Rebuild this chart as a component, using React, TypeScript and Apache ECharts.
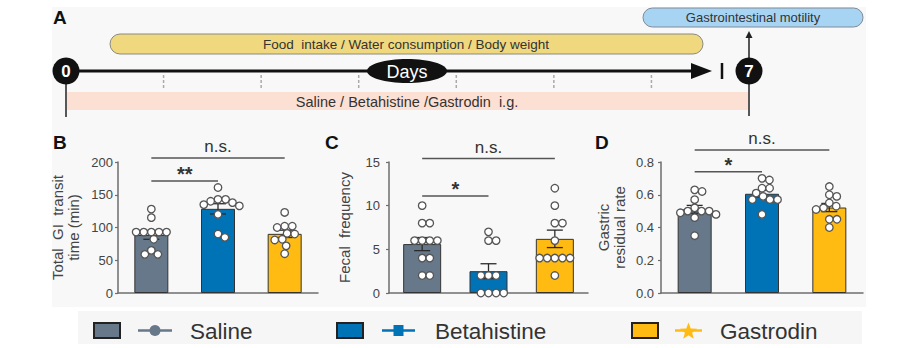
import React, { useEffect, useRef } from "react";
import * as echarts from "echarts";

const FONT = '"Liberation Sans", Arial, Helvetica, sans-serif';

const groups = ["Saline", "Betahistine", "Gastrodin"];
const groupColors = ["#66788a", "#0072b6", "#ffbb11"];

// Panel A timeline
const days = [0, 1, 2, 3, 4, 5, 6, 7];

// Panel B: Total GI transit time (min)
const transitMeans = [88.5, 128.5, 90.3];
const transitSems = [6.5, 7.8, 5.6];
const transitSaline = [128, 115, 93, 93, 93, 93, 93, 82, 65, 59, 59];
const transitBeta = [161, 143, 143, 140, 138, 135, 133, 120, 90, 85];
const transitGastro = [123, 102, 102, 100, 91, 90, 82, 81, 72, 60];
const transitBrackets = [[0, 2, 206], [0, 1, 171]];
const transitBracketLabels = ["n.s.", "**"];

// Panel C: Fecal frequency
const fecalMeans = [5.6, 2.5, 6.2];
const fecalSems = [0.75, 0.85, 1.0];
const fecalSaline = [10, 8, 8, 6, 6, 6, 6, 4, 4, 2, 2];
const fecalBeta = [7, 6, 6, 2, 2, 2, 0, 0, 0, 0];
const fecalGastro = [12, 10, 8, 8, 6, 4, 4, 4, 4, 4, 2];
const fecalBrackets = [[0, 2, 15.4], [0, 1, 11.1]];
const fecalBracketLabels = ["n.s.", "*"];

// Panel D: Gastric residual rate
const gastricMeans = [0.511, 0.606, 0.522];
const gastricSems = [0.024, 0.02, 0.025];
const gastricSaline = [0.63, 0.62, 0.57, 0.52, 0.5, 0.5, 0.5, 0.49, 0.48, 0.46, 0.35];
const gastricBeta = [0.7, 0.69, 0.64, 0.64, 0.61, 0.59, 0.57, 0.57, 0.57, 0.48];
const gastricGastro = [0.65, 0.6, 0.59, 0.55, 0.53, 0.52, 0.51, 0.45, 0.45, 0.4];
const gastricBrackets = [[0, 2, 0.873], [0, 1, 0.741]];
const gastricBracketLabels = ["n.s.", "*"];

const panels = [
  {
    letter: "B", letterX: 53,
    grid: { left: 118, top: 162, width: 200, height: 131 },
    yMax: 200, interval: 50, decimals: 0,
    name: "Total  GI  transit\ntime (min)", nameGap: 37, labelMargin: 5,
    barWidth: 34,
    means: transitMeans, sems: transitSems,
    dots: [transitSaline, transitBeta, transitGastro],
    brackets: transitBrackets, bracketLabels: transitBracketLabels,
  },
  {
    letter: "C", letterX: 325,
    grid: { left: 389, top: 162, width: 199, height: 131 },
    yMax: 15, interval: 5, decimals: 0,
    name: "Fecal  frequency", nameGap: 37, labelMargin: 9,
    barWidth: 38,
    means: fecalMeans, sems: fecalSems,
    dots: [fecalSaline, fecalBeta, fecalGastro],
    brackets: fecalBrackets, bracketLabels: fecalBracketLabels,
  },
  {
    letter: "D", letterX: 595,
    grid: { left: 661, top: 162, width: 202, height: 131 },
    yMax: 0.8, interval: 0.2, decimals: 1,
    name: "Gastric\nresidual rate", nameGap: 34, labelMargin: 7,
    barWidth: 34,
    means: gastricMeans, sems: gastricSems,
    dots: [gastricSaline, gastricBeta, gastricGastro],
    brackets: gastricBrackets, bracketLabels: gastricBracketLabels,
  },
];

function swarm(values: number[], pxPerUnit: number, d: number): number[] {
  const placed: { x: number; y: number }[] = [];
  const out: number[] = [];
  values.forEach((v) => {
    const y = v * pxPerUnit;
    const cands = [0];
    placed.forEach((p) => {
      const dy = Math.abs(p.y - y);
      if (dy < d) {
        const dx = Math.sqrt(d * d - dy * dy);
        cands.push(p.x + dx + 0.01, p.x - dx - 0.01);
      }
    });
    cands.sort((a, b) => Math.abs(a) - Math.abs(b));
    const x =
      cands.find((c) => placed.every((p) => (p.x - c) ** 2 + (p.y - y) ** 2 >= d * d - 0.1)) ?? 0;
    placed.push({ x, y });
    out.push(x);
  });
  return out;
}

function starPoints(cx: number, cy: number, R: number, r: number): number[][] {
  const pts: number[][] = [];
  for (let i = 0; i < 10; i++) {
    const rad = i % 2 === 0 ? R : r;
    const a = -Math.PI / 2 + (i * Math.PI) / 5;
    pts.push([cx + rad * Math.cos(a), cy + rad * Math.sin(a)]);
  }
  return pts;
}

export default function App() {
  const ref = useRef<HTMLDivElement>(null);

  useEffect(() => {
    document.body.style.margin = "0";
    if (!ref.current) return;
    const chart = echarts.init(ref.current, null, { renderer: "svg" });

    const grids: any[] = [];
    const xAxes: any[] = [];
    const yAxes: any[] = [];
    const series: any[] = [];

    panels.forEach((p, pi) => {
      grids.push({ ...p.grid, containLabel: false });
      xAxes.push({
        type: "category",
        gridIndex: pi,
        data: groups,
        boundaryGap: true,
        axisLine: { show: true, lineStyle: { color: "#6e6e6e", width: 1.5 } },
        axisTick: { show: false },
        axisLabel: { show: false },
        splitLine: { show: false },
      });
      xAxes.push({
        type: "value",
        gridIndex: pi,
        min: 0,
        max: 3,
        show: false,
        splitLine: { show: false },
      });
      yAxes.push({
        type: "value",
        gridIndex: pi,
        min: 0,
        max: p.yMax,
        interval: p.interval,
        name: p.name,
        nameLocation: "middle",
        nameGap: p.nameGap,
        nameRotate: 90,
        nameTextStyle: { fontSize: 15, color: "#444", fontFamily: FONT, lineHeight: 16 },
        axisLine: { show: true, lineStyle: { color: "#6e6e6e", width: 1.5 } },
        axisTick: { show: true, length: 3, lineStyle: { color: "#6e6e6e", width: 1.2 } },
        axisLabel: {
          margin: p.labelMargin,
          fontSize: 13,
          color: "#444",
          fontFamily: FONT,
          formatter: (v: number) => v.toFixed(p.decimals),
        },
        splitLine: { show: false },
      });

      const catIdx = pi * 2;
      const valIdx = pi * 2 + 1;

      series.push({
        type: "bar",
        xAxisIndex: catIdx,
        yAxisIndex: pi,
        barWidth: p.barWidth,
        z: 2,
        data: p.means.map((m, i) => ({
          value: m,
          itemStyle: { color: groupColors[i], borderColor: "#333", borderWidth: 1 },
        })),
      });

      series.push({
        type: "custom",
        xAxisIndex: catIdx,
        yAxisIndex: pi,
        z: 3,
        data: p.means.map((m, i) => [i, m, p.sems[i]]),
        renderItem: (params: any, api: any) => {
          const i = api.value(0);
          const m = api.value(1);
          const s = api.value(2);
          const top = api.coord([i, m + s]);
          const bot = api.coord([i, m - s]);
          const hw = 8;
          const st = { stroke: "#2a2a2a", lineWidth: 1.3 };
          return {
            type: "group",
            children: [
              { type: "line", shape: { x1: top[0], y1: top[1], x2: bot[0], y2: bot[1] }, style: st },
              { type: "line", shape: { x1: top[0] - hw, y1: top[1], x2: top[0] + hw, y2: top[1] }, style: st },
              { type: "line", shape: { x1: bot[0] - hw, y1: bot[1], x2: bot[0] + hw, y2: bot[1] }, style: st },
            ],
          };
        },
      });

      const band = p.grid.width / 3;
      const ppu = p.grid.height / p.yMax;
      const dotData: number[][] = [];
      p.dots.forEach((vals, gi) => {
        const offs = swarm(vals, ppu, 7.6);
        vals.forEach((v, k) => dotData.push([gi + 0.5 + offs[k] / band, v]));
      });
      series.push({
        type: "scatter",
        xAxisIndex: valIdx,
        yAxisIndex: pi,
        z: 4,
        clip: false,
        symbol: "circle",
        symbolSize: 7.5,
        itemStyle: { color: "#ffffff", borderColor: "#555", borderWidth: 1.3, opacity: 1 },
        data: dotData,
      });

      series.push({
        type: "custom",
        xAxisIndex: catIdx,
        yAxisIndex: pi,
        z: 5,
        clip: false,
        data: p.brackets,
        renderItem: (params: any, api: any) => {
          const a = api.coord([api.value(0), api.value(2)]);
          const b = api.coord([api.value(1), api.value(2)]);
          const label = p.bracketLabels[params.dataIndex];
          const isStar = label.indexOf("*") >= 0;
          return {
            type: "group",
            children: [
              {
                type: "line",
                shape: { x1: a[0], y1: a[1], x2: b[0], y2: a[1] },
                style: { stroke: "#555", lineWidth: 1.5 },
              },
              {
                type: "text",
                style: {
                  text: label,
                  x: (a[0] + b[0]) / 2,
                  y: isStar ? a[1] + 3 : a[1] - 3,
                  align: "center",
                  verticalAlign: "bottom",
                  fill: "#333",
                  font: isStar ? `bold 20px ${FONT}` : `17px ${FONT}`,
                },
              },
            ],
          };
        },
      });
    });

    const x0 = 66;
    const x7 = 749;
    const dayX = (d: number) => x0 + (d * (x7 - x0)) / 7;
    const tlY = 71;

    const graphic: any[] = [
      { type: "rect", z: -10, shape: { x: 52, y: 7, width: 814, height: 300 }, style: { fill: "#f8f8f8" } },
      { type: "rect", z: -10, shape: { x: 78, y: 311, width: 784, height: 33 }, style: { fill: "#f6f6f6" } },
      // panel letters
      { type: "text", style: { text: "A", x: 53, y: 17, font: `bold 19px ${FONT}`, fill: "#111", verticalAlign: "middle" } },
      ...panels.map((p) => ({
        type: "text",
        style: { text: p.letter, x: p.letterX, y: 142, font: `bold 19px ${FONT}`, fill: "#111", verticalAlign: "middle" },
      })),
      // blue bar
      {
        type: "rect",
        shape: { x: 643, y: 8, width: 220, height: 19, r: 9.5 },
        style: { fill: "#a8d4f3", stroke: "#7d8a96", lineWidth: 1 },
      },
      {
        type: "text",
        style: { text: "Gastrointestinal motility", x: 753, y: 17.5, font: `13px ${FONT}`, fill: "#333", align: "center", verticalAlign: "middle" },
      },
      // yellow bar
      {
        type: "rect",
        shape: { x: 110, y: 34, width: 593, height: 20, r: 10 },
        style: { fill: "#f0d87e", stroke: "#8a8a80", lineWidth: 1 },
      },
      {
        type: "text",
        style: { text: "Food  intake / Water consumption / Body weight", x: 406, y: 44.5, font: `13.5px ${FONT}`, fill: "#333", align: "center", verticalAlign: "middle" },
      },
      // pink band
      { type: "rect", shape: { x: 67, y: 92, width: 681, height: 18 }, style: { fill: "#fde0d4" } },
      {
        type: "text",
        style: { text: "Saline / Betahistine /Gastrodin  i.g.", x: 407, y: 101.5, font: `14.5px ${FONT}`, fill: "#333", align: "center", verticalAlign: "middle" },
      },
      // dashed day ticks
      ...days.slice(1, 7).map((d) => ({
        type: "line",
        shape: { x1: dayX(d), y1: 75, x2: dayX(d), y2: 90 },
        style: { stroke: "#aaa", lineWidth: 1.5, lineDash: [3, 2] },
      })),
      // verticals
      { type: "line", shape: { x1: x0, y1: 80, x2: x0, y2: 117 }, style: { stroke: "#222", lineWidth: 1.5 } },
      { type: "line", shape: { x1: x7, y1: 37, x2: x7, y2: 116 }, style: { stroke: "#222", lineWidth: 1.5 } },
      { type: "polygon", shape: { points: [[x7 - 3.5, 38], [x7 + 3.5, 38], [x7, 31]] }, style: { fill: "#222" } },
      // main timeline
      { type: "line", shape: { x1: 78, y1: tlY, x2: 695, y2: tlY }, style: { stroke: "#111", lineWidth: 3 } },
      { type: "polygon", shape: { points: [[691, tlY - 8], [712, tlY], [691, tlY + 8]] }, style: { fill: "#111" } },
      { type: "line", shape: { x1: 722, y1: tlY - 8, x2: 722, y2: tlY + 8 }, style: { stroke: "#111", lineWidth: 2.5 } },
      { type: "ellipse", shape: { cx: 407, cy: tlY, rx: 40, ry: 12 }, style: { fill: "#111" } },
      { type: "text", style: { text: "Days", x: 407, y: tlY + 0.5, font: `18px ${FONT}`, fill: "#fff", align: "center", verticalAlign: "middle" } },
      { type: "circle", shape: { cx: x0, cy: tlY, r: 13.5 }, style: { fill: "#111" } },
      { type: "text", style: { text: String(days[0]), x: x0, y: tlY + 0.5, font: `bold 17px ${FONT}`, fill: "#fff", align: "center", verticalAlign: "middle" } },
      { type: "circle", shape: { cx: x7, cy: tlY, r: 13.5 }, style: { fill: "#111" } },
      { type: "text", style: { text: String(days[7]), x: x7, y: tlY + 0.5, font: `bold 17px ${FONT}`, fill: "#fff", align: "center", verticalAlign: "middle" } },
    ];

    // legend
    const legendLayout = [
      { box: 94, line: [138, 172], text: 190 },
      { box: 337, line: [382, 415], text: 435 },
      { box: 632, line: [675, 702], text: 720 },
    ];
    const ly = 330.5;
    groups.forEach((g, i) => {
      const L = legendLayout[i];
      graphic.push({
        type: "rect",
        shape: { x: L.box, y: ly - 7.5, width: 26, height: 15 },
        style: { fill: groupColors[i], stroke: "#222", lineWidth: 2 },
      });
      graphic.push({
        type: "line",
        shape: { x1: L.line[0], y1: ly, x2: L.line[1], y2: ly },
        style: { stroke: groupColors[i], lineWidth: 2.5 },
      });
      const mx = (L.line[0] + L.line[1]) / 2;
      if (i === 0) {
        graphic.push({ type: "circle", shape: { cx: mx, cy: ly, r: 5.5 }, style: { fill: groupColors[i] } });
      } else if (i === 1) {
        graphic.push({ type: "rect", shape: { x: mx - 5, y: ly - 5.5, width: 10, height: 11 }, style: { fill: groupColors[i] } });
      } else {
        graphic.push({ type: "polygon", shape: { points: starPoints(mx, ly + 1, 9, 3.8) }, style: { fill: groupColors[i] } });
      }
      graphic.push({
        type: "text",
        style: { text: g, x: L.text, y: ly + 0.5, font: `22.5px ${FONT}`, fill: "#333", verticalAlign: "middle" },
      });
    });

    chart.setOption({
      animation: false,
      backgroundColor: "#ffffff",
      grid: grids,
      xAxis: xAxes,
      yAxis: yAxes,
      series,
      graphic,
    });

    return () => chart.dispose();
  }, []);

  return <div ref={ref} style={{ width: 910, height: 348 }} />;
}
